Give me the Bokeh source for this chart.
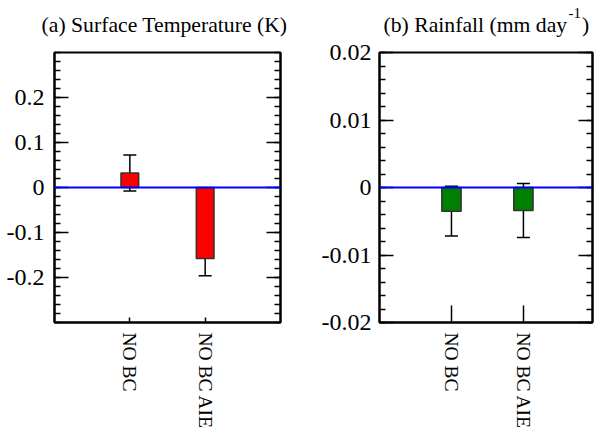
import numpy as np
from bokeh.plotting import figure
from bokeh.layouts import row, column
from bokeh.models import (Range1d, FixedTicker, LinearAxis, Span, Whisker,
                          TeeHead, ColumnDataSource)
from bokeh.core.properties import value
from bokeh.embed import file_html
from bokeh.resources import INLINE

# ---- data ----
categories = ["NO BC", "NO BC AIE"]
temp_values = [0.032, -0.158]
temp_errors = [0.040, 0.038]
rain_values = [-0.0035, -0.0034]
rain_errors = [0.0037, 0.0040]
temp_ticks = [-0.2, -0.1, 0.0, 0.1, 0.2]
rain_ticks = [-0.02, -0.01, 0.0, 0.01, 0.02]
temp_title = "(a) Surface Temperature (K)"
rain_title = "(b) Rainfall (mm day"
rain_title_sup = "-1"
rain_title_end = ")"

FONT = "Liberation Serif"


def make_panel(values, errors, ticks, minor_step, yr, color, bar_width,
               xr_end, x_tick_len, fw, fh, bl, br, label_standoff):
    xs = list(range(1, len(categories) + 1))
    src = ColumnDataSource(dict(
        x=xs, top=values,
        upper=[v + e for v, e in zip(values, errors)],
        lower=[v - e for v, e in zip(values, errors)],
    ))
    p = figure(frame_width=fw, frame_height=fh, output_backend="svg",
               toolbar_location=None, x_range=Range1d(0, xr_end),
               y_range=Range1d(*yr), min_border_left=bl, min_border_right=br,
               min_border_top=14, min_border_bottom=0, title=None)
    p.grid.visible = False
    p.outline_line_color = "black"
    p.outline_line_width = 2
    p.background_fill_color = "white"
    p.border_fill_color = "white"

    minors = [round(v, 6) for v in np.arange(yr[0], yr[1] + minor_step / 2, minor_step)]
    yticker = FixedTicker(ticks=ticks, minor_ticks=minors)

    p.vbar(x="x", top="top", bottom=0, width=bar_width, source=src,
           fill_color=color, line_color="#333333", line_width=1.5)
    p.add_layout(Whisker(base="x", upper="upper", lower="lower", source=src,
                         line_color="black", line_width=1.5,
                         upper_head=TeeHead(size=13, line_color="black", line_width=1.5),
                         lower_head=TeeHead(size=13, line_color="black", line_width=1.5)))
    p.add_layout(Span(location=0, dimension="width", line_color="#0000ff", line_width=2))

    xa = p.xaxis[0]
    xa.ticker = FixedTicker(ticks=xs, minor_ticks=[])
    xa.major_label_overrides = {x: c for x, c in zip(xs, categories)}
    xa.major_label_orientation = "vertical"
    xa.major_label_text_font = FONT
    xa.major_label_text_font_size = "19.5px"
    xa.major_label_text_color = "black"
    xa.major_label_standoff = 10
    xa.major_tick_in = x_tick_len
    xa.major_tick_out = 0
    xa.minor_tick_in = 0
    xa.minor_tick_out = 0
    xa.major_tick_line_width = 1.5
    xa.axis_line_width = 2

    ya = p.yaxis[0]
    ya.ticker = yticker
    ya.major_label_overrides = {t: f"{t:g}" for t in ticks}
    ya.major_label_text_font = FONT
    ya.major_label_text_font_size = "24px"
    ya.major_label_text_color = "black"
    ya.major_label_standoff = label_standoff
    ya.major_tick_in = 14
    ya.major_tick_out = 0
    ya.minor_tick_in = 6
    ya.minor_tick_out = 0
    ya.major_tick_line_width = 1.5
    ya.minor_tick_line_width = 1.5
    ya.axis_line_width = 2

    ra = LinearAxis(ticker=yticker, major_label_overrides={t: "" for t in ticks},
                    major_label_text_font_size="1px",
                    major_label_standoff=0, major_tick_in=14, major_tick_out=0,
                    minor_tick_in=6, minor_tick_out=0, major_tick_line_width=1.5,
                    minor_tick_line_width=1.5, axis_line_width=2)
    p.add_layout(ra, "right")
    return p


pa = make_panel(temp_values, temp_errors, temp_ticks, 0.02, (-0.3, 0.3), "#ff0000",
                0.235, 3.0, 5, 226, 270, 54, 29, 10)
pb = make_panel(rain_values, rain_errors, rain_ticks, 0.002, (-0.02, 0.02), "#008000",
                0.268, 2.96, 17, 213, 270, 70, 2, 8)

# title strip (one pixel per unit)
TW, TH = 595, 38
pt = figure(width=TW, height=TH, output_backend="svg", toolbar_location=None,
            x_range=Range1d(0, TW), y_range=Range1d(0, TH), min_border=0,
            x_axis_location=None, y_axis_location=None, title=None)
pt.grid.visible = False
pt.outline_line_color = None
pt.text(x=[164], y=[13.3], text=[temp_title], text_font=value(FONT),
        text_font_size=value("21.7px"), text_align="center",
        text_baseline="alphabetic", text_color="black")
pt.text(x=[383], y=[13.3], text=[rain_title], text_font=value(FONT),
        text_font_size=value("21.7px"), text_align="left",
        text_baseline="alphabetic", text_color="black")
pt.text(x=[568], y=[26], text=[rain_title_sup], text_font=value(FONT),
        text_font_size=value("15px"), text_align="left",
        text_baseline="alphabetic", text_color="black")
pt.text(x=[581.5], y=[13.3], text=[rain_title_end], text_font=value(FONT),
        text_font_size=value("21.7px"), text_align="left",
        text_baseline="alphabetic", text_color="black")

layout = column(pt, row(pa, pb))
open("out.html", "w").write(file_html(layout, INLINE))
